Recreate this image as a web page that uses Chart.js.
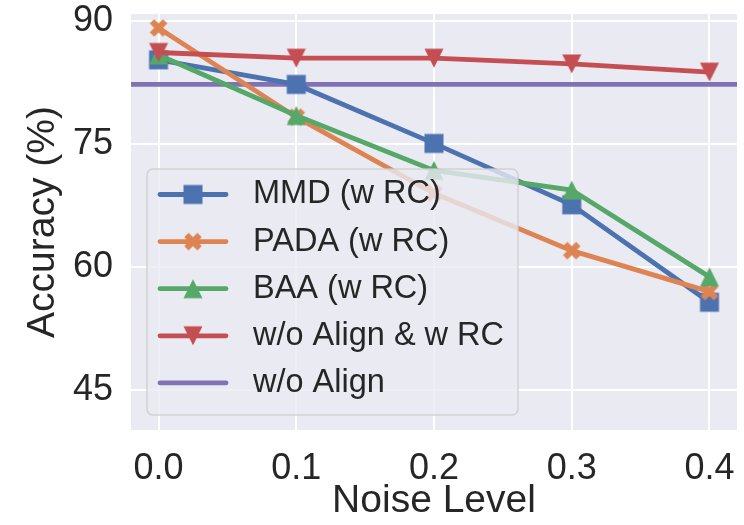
<!DOCTYPE html>
<html>
<head>
<meta charset="utf-8">
<script src="https://cdn.jsdelivr.net/npm/chart.js@4/dist/chart.umd.min.js"></script>
<style>
  html, body { margin: 0; padding: 0; background: #ffffff; }
  #wrap { width: 744px; height: 525px; }
</style>
</head>
<body>
<div id="wrap"><canvas id="c" width="744" height="525"></canvas></div>
<script>
// ---- data ----
const noiseLevels = [0.0, 0.1, 0.2, 0.3, 0.4];
const mmdValues   = [85.3, 82.3, 75.1, 67.6, 55.7];
const padaValues  = [89.2, 78.3, 69.0, 62.0, 57.0];
const baaValues   = [85.9, 78.5, 71.8, 69.4, 58.8];
const noAlignRcValues = [86.2, 85.5, 85.5, 84.8, 83.8];
const noAlignValue = 82.3;
const xTickValues = [0.0, 0.1, 0.2, 0.3, 0.4];
const yTickValues = [45, 60, 75, 90];
const seriesLabels = ['MMD (w RC)', 'PADA (w RC)', 'BAA (w RC)', 'w/o Align & w RC', 'w/o Align'];
const X_MIN = -0.02, X_MAX = 0.42, Y_MIN = 40.1, Y_MAX = 90.9;

const COLORS = ['#4C72B0', '#DD8452', '#55A868', '#C44E52', '#8172B3'];
const TEXT = '#262626';
const FONT = "'Liberation Sans', Arial, sans-serif";

function makeMarker(kind, color) {
  const c = document.createElement('canvas');
  c.width = 26; c.height = 26;
  const g = c.getContext('2d');
  g.fillStyle = color;
  g.beginPath();
  const m = 13, h = 9.5;
  if (kind === 'square') {
    g.rect(m - h, m - h, 2 * h, 2 * h);
  } else if (kind === 'up') {
    g.moveTo(m, m - h); g.lineTo(m + h, m + h); g.lineTo(m - h, m + h); g.closePath();
  } else if (kind === 'down') {
    g.moveTo(m - h, m - h); g.lineTo(m + h, m - h); g.lineTo(m, m + h); g.closePath();
  } else if (kind === 'X') {
    const pts = [[-1,-3],[-1,-1],[-3,-1],[-3,1],[-1,1],[-1,3],[1,3],[1,1],[3,1],[3,-1],[1,-1],[1,-3]];
    const s = 3.1, a = Math.PI / 4;
    pts.forEach((p, i) => {
      const x = m + s * (p[0] * Math.cos(a) - p[1] * Math.sin(a));
      const y = m + s * (p[0] * Math.sin(a) + p[1] * Math.cos(a));
      if (i === 0) g.moveTo(x, y); else g.lineTo(x, y);
    });
    g.closePath();
  }
  g.fill();
  return c;
}
const markers = [
  makeMarker('square', COLORS[0]),
  makeMarker('X', COLORS[1]),
  makeMarker('up', COLORS[2]),
  makeMarker('down', COLORS[3]),
  null
];

function pts(vals) { return noiseLevels.map((x, i) => ({ x: x, y: vals[i] })); }

function lineDs(i, vals, order) {
  return {
    label: seriesLabels[i],
    data: pts(vals),
    borderColor: COLORS[i],
    backgroundColor: COLORS[i],
    borderWidth: 4.8,
    pointStyle: markers[i],
    pointRadius: 1,
    pointHoverRadius: 1,
    pointBorderWidth: 0,
    tension: 0,
    order: order
  };
}

const datasets = [
  lineDs(0, mmdValues, 4),
  lineDs(1, padaValues, 3),
  lineDs(2, baaValues, 2),
  lineDs(3, noAlignRcValues, 1),
  {
    label: seriesLabels[4],
    data: [{ x: X_MIN, y: noAlignValue }, { x: X_MAX, y: noAlignValue }],
    borderColor: COLORS[4],
    backgroundColor: COLORS[4],
    borderWidth: 4.8,
    pointRadius: 0,
    pointHoverRadius: 0,
    pointBorderWidth: 0,
    order: 5
  }
];

const bgPlugin = {
  id: 'bg',
  beforeDraw(chart) {
    const { ctx, chartArea: a } = chart;
    ctx.save();
    ctx.fillStyle = '#EAEAF2';
    ctx.fillRect(a.left, a.top, a.right - a.left, a.bottom - a.top);
    ctx.restore();
  }
};

const legendPlugin = {
  id: 'mplLegend',
  afterDatasetsDraw(chart) {
    const ctx = chart.ctx;
    const bx = 147, by = 169, bw = 371, bh = 246, r = 6;
    ctx.save();
    ctx.beginPath();
    ctx.moveTo(bx + r, by);
    ctx.arcTo(bx + bw, by, bx + bw, by + bh, r);
    ctx.arcTo(bx + bw, by + bh, bx, by + bh, r);
    ctx.arcTo(bx, by + bh, bx, by, r);
    ctx.arcTo(bx, by, bx + bw, by, r);
    ctx.closePath();
    ctx.fillStyle = 'rgba(234,234,242,0.8)';
    ctx.fill();
    ctx.lineWidth = 1.5;
    ctx.strokeStyle = 'rgba(204,204,204,0.8)';
    ctx.stroke();

    const rowY0 = 194.5, rowStep = 47.1;
    for (let i = 0; i < seriesLabels.length; i++) {
      const y = rowY0 + i * rowStep;
      ctx.beginPath();
      ctx.moveTo(160, y);
      ctx.lineTo(226, y);
      ctx.lineWidth = 4.8;
      ctx.lineCap = 'round';
      ctx.strokeStyle = COLORS[i];
      ctx.stroke();
      if (markers[i]) ctx.drawImage(markers[i], 193 - 13, y - 13);
      ctx.fillStyle = TEXT;
      ctx.font = '32.5px ' + FONT;
      ctx.textBaseline = 'middle';
      ctx.textAlign = 'left';
      ctx.fillText(seriesLabels[i], 253, y);
    }
    ctx.restore();
  }
};

new Chart(document.getElementById('c'), {
  type: 'line',
  data: { datasets },
  plugins: [bgPlugin, legendPlugin],
  options: {
    responsive: false,
    devicePixelRatio: 1,
    animation: false,
    events: [],
    layout: { padding: { top: 14, right: 7, left: 0, bottom: 0 } },
    plugins: { legend: { display: false }, tooltip: { enabled: false } },
    scales: {
      x: {
        type: 'linear',
        min: X_MIN, max: X_MAX,
        afterBuildTicks: s => { s.ticks = xTickValues.map(v => ({ value: v })); },
        afterFit: s => { s.height = 95; s.paddingLeft = 0; s.paddingRight = 0; },
        border: { display: false },
        grid: { color: '#ffffff', lineWidth: 2, drawTicks: false },
        ticks: {
          color: TEXT, font: { family: FONT, size: 36 }, padding: 17,
          callback: v => Number(v).toFixed(1), maxRotation: 0, autoSkip: false
        },
        title: { display: true, text: 'Noise Level', color: TEXT,
                 font: { family: FONT, size: 39 }, padding: { top: 0, bottom: 0 } }
      },
      y: {
        type: 'linear',
        min: Y_MIN, max: Y_MAX,
        afterBuildTicks: s => { s.ticks = yTickValues.map(v => ({ value: v })); },
        afterFit: s => { s.width = 131; s.paddingTop = 0; s.paddingBottom = 0; },
        border: { display: false },
        grid: { color: '#ffffff', lineWidth: 2, drawTicks: false },
        ticks: {
          color: TEXT, font: { family: FONT, size: 36 }, padding: 18,
          callback: v => String(v), autoSkip: false
        },
        title: { display: true, text: 'Accuracy (%)', color: TEXT,
                 font: { family: FONT, size: 39 }, padding: { top: 20, bottom: 0 } }
      }
    }
  }
});
</script>
</body>
</html>
